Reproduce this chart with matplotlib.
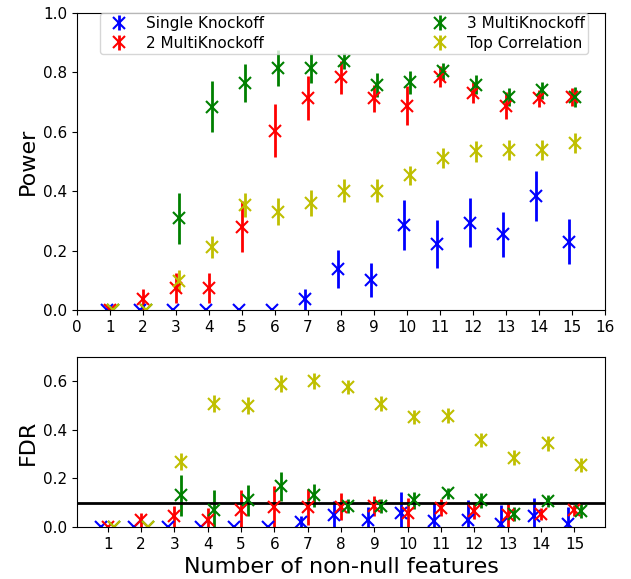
import numpy as np
import matplotlib
matplotlib.use("Agg")
import matplotlib.pyplot as plt

n_feat = np.arange(1, 16)

# power (mean, error) for each method
pow_single = [0, 0, 0, 0, 0, 0, 0.036, 0.138, 0.101, 0.286, 0.222, 0.294, 0.255, 0.385, 0.23]
pow_single_err = [0, 0, 0, 0, 0, 0, 0.035, 0.063, 0.056, 0.085, 0.08, 0.082, 0.075, 0.084, 0.076]
pow_multi2 = [0, 0.036, 0.073, 0.073, 0.281, 0.604, 0.713, 0.783, 0.713, 0.688, 0.786, 0.732, 0.688, 0.713, 0.717]
pow_multi2_err = [0, 0.036, 0.05, 0.05, 0.085, 0.09, 0.075, 0.055, 0.046, 0.066, 0.035, 0.035, 0.045, 0.028, 0.03]
pow_multi3 = [0, 0, 0.309, 0.685, 0.764, 0.815, 0.815, 0.837, 0.758, 0.766, 0.803, 0.758, 0.717, 0.739, 0.717]
pow_multi3_err = [0, 0, 0.086, 0.085, 0.064, 0.06, 0.05, 0.027, 0.04, 0.04, 0.028, 0.032, 0.03, 0.028, 0.033]
pow_topcorr = [0, 0, 0.099, 0.213, 0.354, 0.331, 0.36, 0.402, 0.402, 0.453, 0.511, 0.534, 0.539, 0.539, 0.562]
pow_topcorr_err = [0, 0, 0.035, 0.037, 0.04, 0.045, 0.043, 0.04, 0.04, 0.032, 0.034, 0.036, 0.035, 0.035, 0.035]

# FDR (mean, error)
fdr_single = [0, 0, 0, 0, 0, 0, 0.021, 0.048, 0.028, 0.058, 0.025, 0.03, 0.014, 0.044, 0.014]
fdr_single_err = [0, 0, 0, 0, 0, 0, 0.024, 0.06, 0.055, 0.085, 0.072, 0.08, 0.075, 0.076, 0.07]
fdr_multi2 = [0, 0.028, 0.044, 0.03, 0.072, 0.083, 0.083, 0.083, 0.086, 0.058, 0.08, 0.066, 0.048, 0.053, 0.069]
fdr_multi2_err = [0, 0.03, 0.044, 0.05, 0.08, 0.085, 0.075, 0.055, 0.04, 0.06, 0.036, 0.035, 0.05, 0.025, 0.023]
fdr_multi3 = [0, 0, 0.131, 0.072, 0.11, 0.168, 0.131, 0.086, 0.086, 0.11, 0.138, 0.11, 0.053, 0.106, 0.066]
fdr_multi3_err = [0, 0, 0.085, 0.08, 0.065, 0.06, 0.048, 0.03, 0.03, 0.035, 0.022, 0.03, 0.03, 0.025, 0.03]
fdr_topcorr = [0, 0, 0.269, 0.508, 0.499, 0.589, 0.603, 0.577, 0.508, 0.453, 0.459, 0.359, 0.286, 0.345, 0.255]
fdr_topcorr_err = [0, 0, 0.035, 0.035, 0.035, 0.035, 0.033, 0.03, 0.03, 0.03, 0.03, 0.03, 0.03, 0.03, 0.03]

labels = ["Single Knockoff", "2 MultiKnockoff", "3 MultiKnockoff", "Top Correlation"]
colors = ["b", "r", "g", "y"]

fig = plt.figure(figsize=(6.31, 5.79), dpi=100)
ax1 = fig.add_axes([0.122, 0.4646, 0.837, 0.513])
ax2 = fig.add_axes([0.122, 0.0898, 0.837, 0.2936])

kw = dict(fmt="x", markersize=8, mew=1.5, elinewidth=2)

# top: power
shifts_top = [-0.1, 0, 0.1, 0.1]
pow_data = [(pow_single, pow_single_err), (pow_multi2, pow_multi2_err),
            (pow_multi3, pow_multi3_err), (pow_topcorr, pow_topcorr_err)]
for (m, e), c, lab, s in zip(pow_data, colors, labels, shifts_top):
    ax1.errorbar(n_feat + s, m, yerr=e, color=c, label=lab, **kw)
ax1.set_xlim(0, 16)
ax1.set_ylim(0, 1.0)
ax1.set_xticks(np.arange(0, 17))
ax1.set_ylabel("Power", fontsize=16)
ax1.tick_params(labelsize=11)
ax1.legend(loc="upper left", bbox_to_anchor=(0.044, 1.0, 0.924, 0), mode="expand",
           ncol=2, borderaxespad=0, fontsize=11, handletextpad=0.8,
           borderpad=0.2, labelspacing=0.3)

# bottom: FDR
shifts_bot = [-0.2, 0, 0.2, 0.2]
fdr_data = [(fdr_single, fdr_single_err), (fdr_multi2, fdr_multi2_err),
            (fdr_multi3, fdr_multi3_err), (fdr_topcorr, fdr_topcorr_err)]
for (m, e), c, s in zip(fdr_data, colors, shifts_bot):
    ax2.errorbar(n_feat + s, m, yerr=e, color=c, **kw)
ax2.axhline(0.1, color="k", lw=2)
ax2.set_ylim(0, 0.7)
ax2.set_xticks(n_feat)
ax2.set_yticks([0, 0.2, 0.4, 0.6])
ax2.set_ylabel("FDR", fontsize=16)
ax2.set_xlabel("Number of non-null features", fontsize=16)
ax2.tick_params(labelsize=11)

fig.savefig("out.png", dpi=100)
